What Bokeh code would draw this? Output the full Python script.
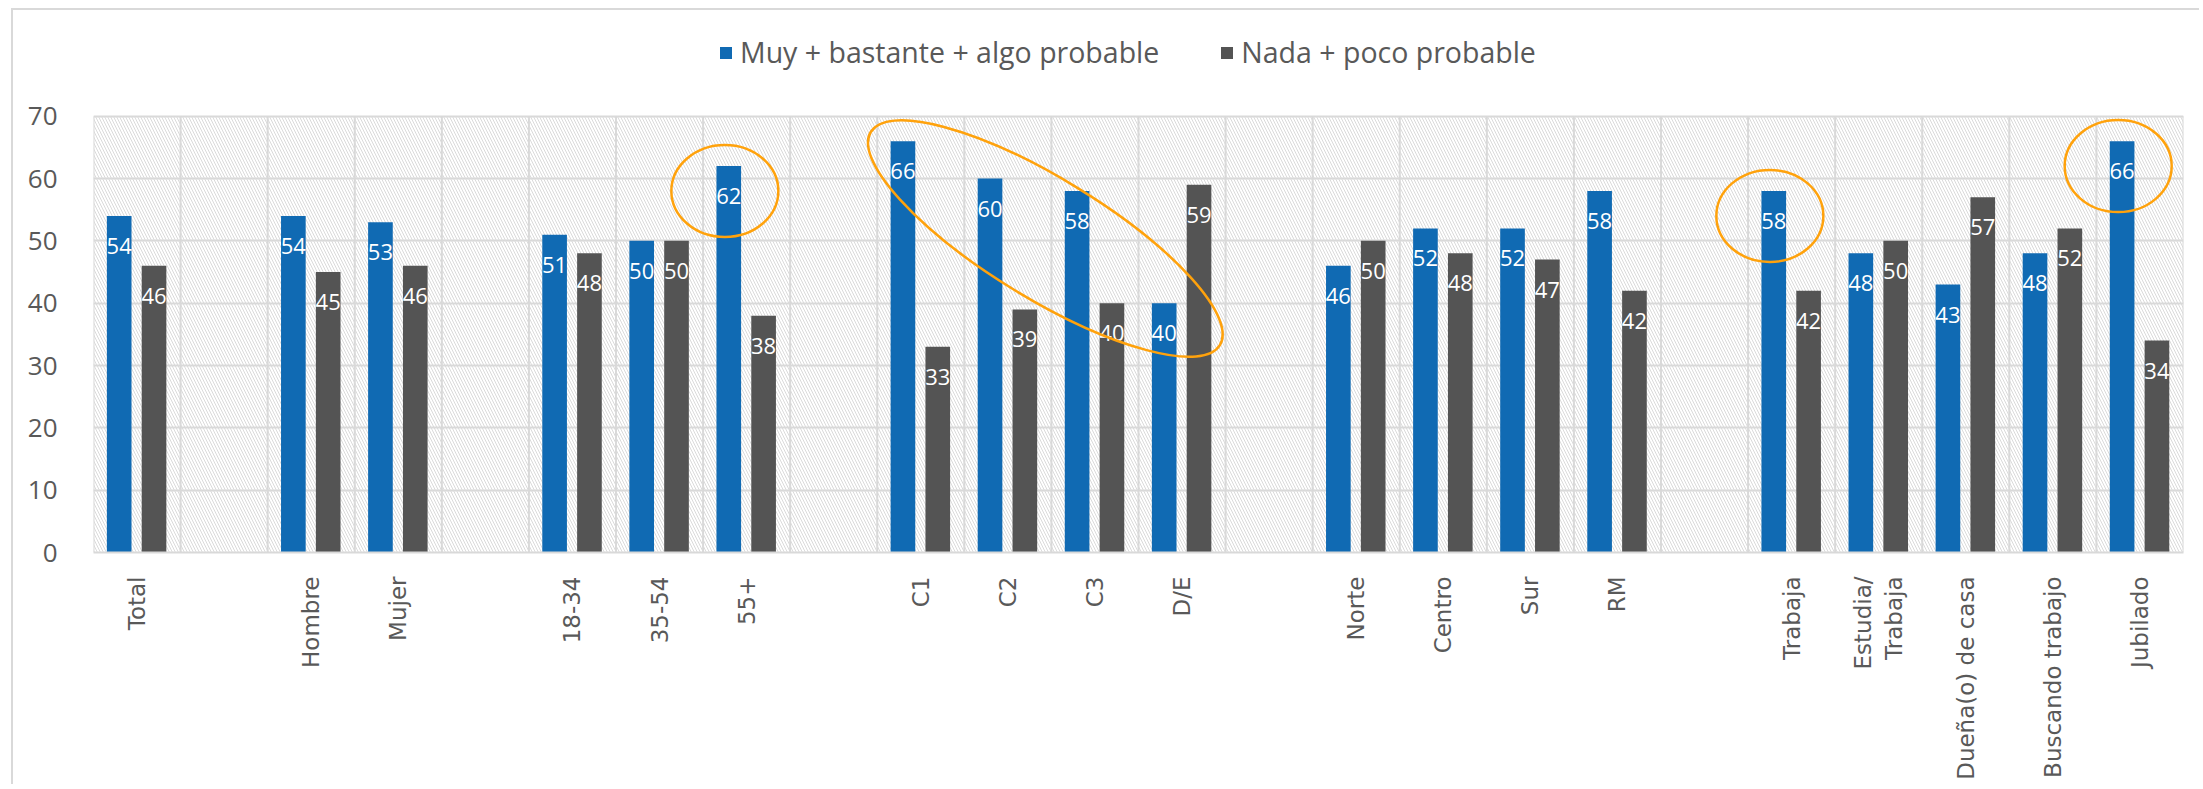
import math
from bokeh.plotting import figure
from bokeh.models import (FixedTicker, Range1d, Legend, LegendItem, BoxAnnotation,
                          ColumnDataSource)
from bokeh.core.properties import value
from bokeh.embed import file_html
from bokeh.resources import INLINE

# ---------------- data ----------------
categories = ["Total", "", "Hombre", "Mujer", "", "18-34", "35-54", "55+", "",
              "C1", "C2", "C3", "D/E", "", "Norte", "Centro", "Sur", "RM", "",
              "Trabaja", "Estudia/\nTrabaja", "Dueña(o) de casa", "Buscando trabajo", "Jubilado"]
probable = [54, None, 54, 53, None, 51, 50, 62, None, 66, 60, 58, 40, None,
            46, 52, 52, 58, None, 58, 48, 43, 48, 66]
no_probable = [46, None, 45, 46, None, 48, 50, 38, None, 33, 39, 40, 59, None,
               50, 48, 47, 42, None, 42, 50, 57, 52, 34]
series_names = ["Muy + bastante + algo probable", "Nada + poco probable"]
y_ticks = [0, 10, 20, 30, 40, 50, 60, 70]

# highlighted groups (annotations)
circle_highlights = ["55+", "Trabaja", "Jubilado"]
ellipse_group = ["C1", "C2", "C3", "D/E"]

# ---------------- style ----------------
BLUE = "#106AB3"
GRAY = "#545454"
ORANGE = "#FFA20C"
GRID = "#D9D9D9"
TXT = "#595959"
FONT = "Open Sans"

n = len(categories)
idx = list(range(n))
y_lo, y_hi = y_ticks[0], y_ticks[-1]

def build(vals, off):
    xs, ys, ls = [], [], []
    for i, v in zip(idx, vals):
        if v is None:
            continue
        xs.append(i + off)
        ys.append(v)
        ls.append(str(v))
    return ColumnDataSource(dict(x=xs, y=ys, label=ls))

src_b = build(probable, -0.205)
src_g = build(no_probable, 0.195)

# y range extended above 70 to leave room for the legend inside the frame
p = figure(width=2188, height=776, output_backend="svg", toolbar_location=None,
           title=None,
           x_range=Range1d(-0.5, n - 0.5), y_range=Range1d(0, 86),
           min_border_left=80, min_border_right=18, min_border_top=6,
           min_border_bottom=234)
p.styles = {"margin-left": "11px", "margin-top": "8px",
            "border-top": "2px solid #D9D9D9", "border-left": "2px solid #D9D9D9"}

p.background_fill_color = "white"
p.border_fill_color = "white"
p.outline_line_color = None

# hatched plot area
hatch = BoxAnnotation(left=-0.5, right=n - 0.5, bottom=y_lo, top=y_hi,
                      fill_alpha=0, line_alpha=0, hatch_pattern="\\",
                      hatch_color="#DADADA", hatch_scale=6, hatch_weight=1,
                      level="underlay")
p.add_layout(hatch)

# grids
p.xgrid.visible = False
p.ygrid.ticker = FixedTicker(ticks=y_ticks)
p.ygrid.grid_line_color = GRID
p.ygrid.grid_line_width = 2
bounds = [i - 0.5 for i in range(n + 1)]
p.segment(x0=bounds, y0=[y_lo] * len(bounds), x1=bounds, y1=[y_hi] * len(bounds),
          line_color=GRID, line_width=2, level="underlay")

# bars
rb = p.vbar(x="x", top="y", width=0.283, source=src_b, color=BLUE, line_width=0)
rg = p.vbar(x="x", top="y", width=0.283, source=src_g, color=GRAY, line_width=0)

# data labels
for s in (src_b, src_g):
    p.text(x="x", y="y", text="label", source=s, text_color="white",
           text_font=value(FONT), text_font_size="22px", text_align="center",
           text_baseline="middle", y_offset=30)

# highlight circles
cx, cy = [], []
for c in circle_highlights:
    i = categories.index(c)
    cx.append(i - 0.25)
    cy.append(probable[i] - 4)
p.ellipse(x=cx, y=cy, width=107, height=92, width_units="screen",
          height_units="screen", fill_alpha=0, line_color=ORANGE, line_width=2.5)

# tilted ellipse around socioeconomic group
gi = [categories.index(c) for c in ellipse_group]
ex = sum(gi) / len(gi) - 0.07
allv = [probable[i] for i in gi] + [no_probable[i] for i in gi]
ey = sum(allv) / len(allv) + 1
p.ellipse(x=[ex], y=[ey], width=409, height=120, width_units="screen",
          height_units="screen", angle=-0.548, fill_alpha=0,
          line_color=ORANGE, line_width=2.5)

# axes
p.xaxis.ticker = FixedTicker(ticks=idx)
p.xaxis.major_label_overrides = {i: c for i, c in zip(idx, categories)}
p.xaxis.major_label_orientation = math.pi / 2
p.xaxis.major_label_text_font = "DejaVu Sans"
p.xaxis.major_label_text_font_size = "23px"
p.xaxis.major_label_text_color = TXT
p.xaxis.major_label_standoff = 18
p.xaxis.major_tick_line_color = None
p.xaxis.minor_tick_line_color = None
p.xaxis.axis_line_color = GRID
p.xaxis.axis_line_width = 2

p.yaxis.ticker = FixedTicker(ticks=y_ticks)
p.yaxis.major_label_text_font = FONT
p.yaxis.major_label_text_font_size = "26px"
p.yaxis.major_label_text_color = TXT
p.yaxis.major_label_standoff = 30
p.yaxis.major_tick_line_color = None
p.yaxis.minor_tick_line_color = None
p.yaxis.axis_line_color = None

# legend (above the hatched area)
legend = Legend(items=[LegendItem(label=series_names[0], renderers=[rb]),
                       LegendItem(label=series_names[1], renderers=[rg])],
                location=(625, 481), orientation="horizontal",
                glyph_width=15, glyph_height=15, label_standoff=7, spacing=60,
                padding=0, margin=0, border_line_color=None,
                background_fill_alpha=0, label_text_font=FONT,
                label_text_font_size="28.5px", label_text_color=TXT,
                label_height=30)
p.add_layout(legend)

open("out.html", "w").write(file_html(p, INLINE))
